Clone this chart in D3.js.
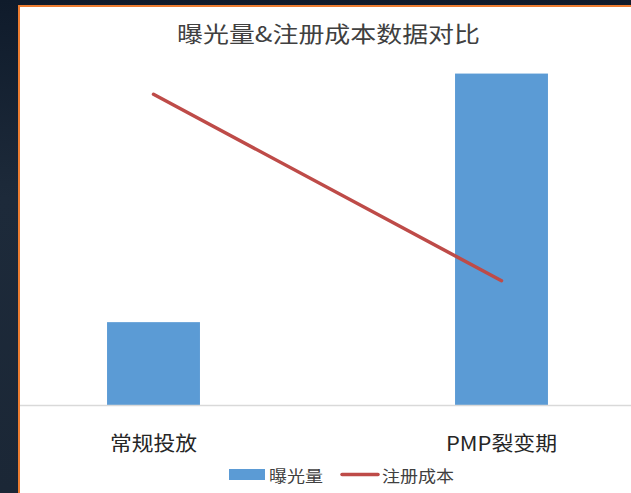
<!DOCTYPE html>
<html>
<head>
<meta charset="utf-8">
<script src="https://cdn.jsdelivr.net/npm/d3@7/dist/d3.min.js"></script>
<style>
html,body{margin:0;padding:0;background:#1a2533;overflow:hidden;}
svg{display:block;}
text{font-family:"Noto Sans CJK SC","Microsoft YaHei",sans-serif;}
</style>
</head>
<body>
<script>
const categories = ["常规投放", "PMP裂变期"];
const exposure = [100, 400];      // 曝光量
const cost = [12.5, 5];           // 注册成本
const seriesNames = ["曝光量", "注册成本"];
const titleText = "曝光量&注册成本数据对比";

const W = 631, H = 493;
const svg = d3.select("body").append("svg").attr("width", W).attr("height", H);

// background: dark slide edge, orange frame, white chart area
const bg = svg.append("defs").append("linearGradient").attr("id","bg").attr("x1",0).attr("y1",0).attr("x2",0).attr("y2",1);
bg.append("stop").attr("offset","0").attr("stop-color","#0f1b2b");
bg.append("stop").attr("offset","0.4").attr("stop-color","#1d2a3a");
bg.append("stop").attr("offset","1").attr("stop-color","#1b2736");
svg.append("rect").attr("width", W).attr("height", H).attr("fill", "url(#bg)");
svg.append("rect").attr("x", 18).attr("y", 5).attr("width", W - 18).attr("height", H - 5).attr("fill", "#ed7d31");
svg.append("rect").attr("x", 20).attr("y", 7).attr("width", W - 20).attr("height", H - 7).attr("fill", "#ffffff");

const baseY = 405, topY = 57;
const x = d3.scaleBand().domain(categories).range([-20.5, 675.5]).paddingInner(0.733).paddingOuter(0.3665);
const y = d3.scaleLinear().domain([0, 420]).range([baseY, topY]);
const y2 = d3.scaleLinear().domain([0, 14]).range([baseY, topY]);

// bars
svg.append("g").selectAll("rect").data(categories).join("rect")
  .attr("x", d => x(d))
  .attr("y", (d, i) => y(exposure[i]))
  .attr("width", x.bandwidth())
  .attr("height", (d, i) => baseY - y(exposure[i]))
  .attr("fill", "#5b9bd5");

// axis baseline
const xAxis = d3.axisBottom(x).tickSize(0).tickFormat(() => "");
const ax = svg.append("g").attr("transform", `translate(0,${baseY + 0.5})`).call(xAxis);
ax.select(".domain").attr("stroke", "#d9d9d9").attr("stroke-width", 1.5).attr("d", "M20,0H631");

// category labels
const labelW = {"常规投放": 87, "PMP裂变期": 111};
svg.append("g").selectAll("text").data(categories).join("text")
  .attr("x", d => x(d) + x.bandwidth() / 2 - labelW[d] / 2)
  .attr("y", 442)
  .attr("dominant-baseline", "central")
  .attr("font-size", 20)
  .attr("fill", "#262626")
  .attr("textLength", d => labelW[d])
  .attr("lengthAdjust", "spacingAndGlyphs")
  .text(d => d);

// line
const line = d3.line().x(d => x(d.c) + x.bandwidth() / 2).y(d => y2(d.v));
svg.append("path")
  .datum(categories.map((c, i) => ({c, v: cost[i]})))
  .attr("d", line)
  .attr("fill", "none")
  .attr("stroke", "#be4b48")
  .attr("stroke-width", 3.5)
  .attr("stroke-linecap", "round");

// title
svg.append("text")
  .attr("x", 177).attr("y", 32)
  .attr("dominant-baseline", "central")
  .attr("font-size", 22)
  .attr("fill", "#404040")
  .attr("textLength", 303)
  .attr("lengthAdjust", "spacingAndGlyphs")
  .text(titleText);

// legend
const lg = svg.append("g");
lg.append("rect").attr("x", 229).attr("y", 469).attr("width", 36).attr("height", 11).attr("fill", "#5b9bd5");
lg.append("text").attr("x", 269).attr("y", 474.5).attr("dominant-baseline", "central")
  .attr("font-size", 16).attr("fill", "#404040")
  .attr("textLength", 54).attr("lengthAdjust", "spacingAndGlyphs").text(seriesNames[0]);
lg.append("line").attr("x1", 342).attr("x2", 378).attr("y1", 474.5).attr("y2", 474.5)
  .attr("stroke", "#be4b48").attr("stroke-width", 3.5).attr("stroke-linecap", "round");
lg.append("text").attr("x", 382).attr("y", 474.5).attr("dominant-baseline", "central")
  .attr("font-size", 16).attr("fill", "#404040")
  .attr("textLength", 72).attr("lengthAdjust", "spacingAndGlyphs").text(seriesNames[1]);
</script>
</body>
</html>
